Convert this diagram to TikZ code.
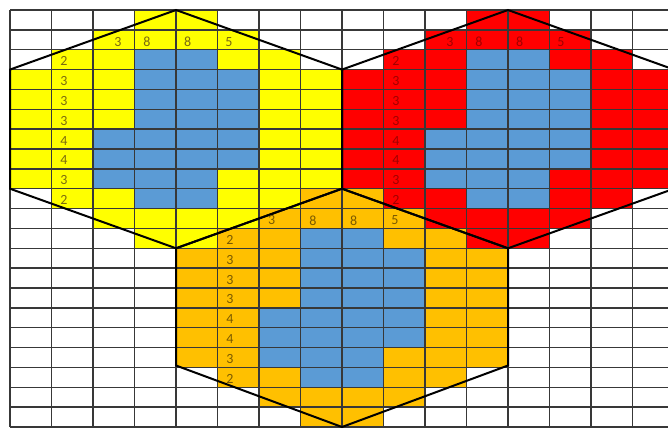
\documentclass[tikz,border=0pt]{standalone}
\usepackage{fontspec}
\setmainfont{Carlito}
\definecolor{hy}{HTML}{FFFF00}
\definecolor{hr}{HTML}{FF0000}
\definecolor{ho}{HTML}{FFC000}
\definecolor{hb}{HTML}{5B9BD5}
\definecolor{gridc}{HTML}{383838}
\definecolor{ty}{HTML}{7A6A10}
\definecolor{tr}{HTML}{A00000}
\definecolor{to}{HTML}{7A5A00}
\newcommand\hexfill[3]{%
  \foreach \rr/\ca/\cb in {0/3/4,1/2/5,2/1/6,3/0/7,4/0/7,5/0/7,6/0/7,7/0/7,8/0/7,9/1/6,10/2/5,11/3/4}{
    \fill[#3] ({10+(#1+\ca)*41.5},{10+(#2+\rr)*19.857}) rectangle ({10+(#1+\cb+1)*41.5},{10+(#2+\rr+1)*19.857});
  }
  \foreach \rr/\ca/\cb in {2/3/4,3/3/5,4/3/5,5/3/5,6/2/5,7/2/5,8/2/4,9/3/4}{
    \fill[hb] ({10+(#1+\ca)*41.5},{10+(#2+\rr)*19.857}) rectangle ({10+(#1+\cb+1)*41.5},{10+(#2+\rr+1)*19.857});
  }
}
% #1 prefix, #2 col offset, #3 row offset, #4 colour, #5 x of first top number
\newcommand\hexnums[5]{%
  \foreach \v [count=\i] in {3,8,8,5}{
    \pgfmathsetmacro\xx{ifthenelse(\i==1,#5,10+#2*41.5+{0,136.9,177.6,219}[\i-1])}
    \node[num,text=#4] (#1-t\i) at (\xx,{10+(#3+1.5)*19.857+2}) {\v};
  }
  \foreach \v [count=\i] in {2,3,3,3,4,4,3,2}{
    \node[num,text=#4] (#1-s\i) at ({10+#2*41.5+54},{10+(#3+1+\i+0.5)*19.857+1.5}) {\v};
  }
}
\tikzset{
  num/.style={inner sep=0pt,font=\fontsize{10.5}{11}\selectfont},
  gridline/.style={gridc,line width=1.05pt},
  hexline/.style={black,line width=1.5pt,line join=miter}
}
\begin{document}
\begin{tikzpicture}[x=0.75pt,y=-0.75pt]
\useasboundingbox (0,0) rectangle (668,429);
\fill[white] (0,0) rectangle (668,429);
\begin{scope}
\clip (0,0) rectangle (668,429);
\hexfill{0}{0}{hy}
\hexfill{8}{0}{hr}
\hexfill{4}{9}{ho}
% grid
\foreach \k in {0,...,15}{
  \draw[gridline] ({10+\k*41.5},10) -- ({10+\k*41.5},427);
}
\foreach \k in {0,...,21}{
  \draw[gridline] (10,{10+\k*19.857}) -- (668,{10+\k*19.857});
}
% hexagon corners
\coordinate (A) at (176,10);
\coordinate (B) at (342,69.57);
\coordinate (C) at (342,188.71);
\coordinate (D) at (176,248.28);
\coordinate (E) at (10,188.71);
\coordinate (F) at (10,69.57);
\coordinate (G) at (508,10);
\coordinate (H) at (674,69.57);
\coordinate (I) at (674,188.71);
\coordinate (J) at (508,248.28);
\coordinate (K) at (508,365.5);
\coordinate (L) at (342,427);
\coordinate (M) at (176,365.5);
\draw[hexline] (A) -- (B) -- (C) -- (D) -- (E) -- (F) -- cycle;
\draw[hexline] (G) -- (H) -- (I) -- (J) -- (C) -- (B) -- cycle;
\draw[hexline] (C) -- (J) -- (K) -- (L) -- (M) -- (D) -- cycle;
\end{scope}
\hexnums{y}{0}{0}{ty}{118}
\hexnums{r}{8}{0}{tr}{450}
\hexnums{o}{4}{9}{to}{271.7}
\end{tikzpicture}
\end{document}
